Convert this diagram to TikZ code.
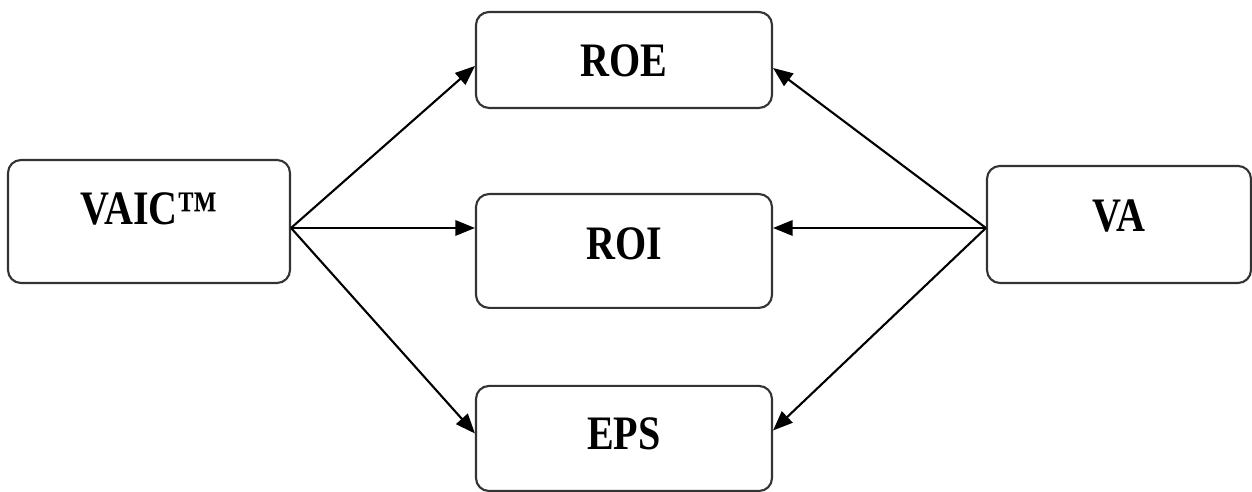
\documentclass[tikz,border=0pt]{standalone}
\usepackage{fontspec}
\setmainfont{Liberation Serif}
\usepackage{graphicx}
\usepackage{tikz}
\usetikzlibrary{arrows.meta}
\newcommand{\hoog}[1]{\scalebox{1}[1.2]{#1}}
\tikzset{
	blok/.style={draw=black!80, line width=0.6pt, rounded corners=1.3mm, inner sep=0pt, font=\fontsize{11.4}{13}\selectfont\bfseries},
	pijl/.style={line width=0.6pt, -{Triangle[length=5.6pt, width=4.4pt]}}
}

\begin{document}
\begin{tikzpicture}
			%%%%% START %%%%%
			
			\useasboundingbox (0, 0) rectangle (12.52, 4.92);
			
			\node[blok, minimum width=2.82cm, text height=18.25pt, text depth=16.75pt] (vaic) at (1.49, 2.705) {\hoog{VAIC™}};
			\node[blok, minimum width=2.64cm, text height=18.55pt, text depth=14.75pt] (va) at (11.19, 2.675) {\hoog{VA}};
			
			\node[blok, minimum width=2.96cm, text height=18.25pt, text depth=9.05pt] (roe) at (6.24, 4.32) {\hoog{ROE}};
			\node[blok, minimum width=2.96cm, text height=18.5pt, text depth=13.9pt] (roi) at (6.24, 2.41) {\hoog{ROI}};
			\node[blok, minimum width=2.96cm, text height=18pt, text depth=11.9pt] (eps) at (6.24, 0.535) {\hoog{EPS}};
			
			\coordinate (vaicout) at ([yshift=-0.065cm]vaic.east);
			\coordinate (vaout) at ([yshift=-0.035cm]va.west);
			
			\draw[pijl] (vaicout) -- ([yshift=-0.06cm]roe.west);
			\draw[pijl] (vaicout) -- (vaicout -| roi.west);
			\draw[pijl] (vaicout) -- ([yshift=0.05cm]eps.west);
			
			\draw[pijl] (vaout) -- ([yshift=-0.08cm]roe.east);
			\draw[pijl] (vaout) -- (vaout -| roi.east);
			\draw[pijl] (vaout) -- ([yshift=0.08cm]eps.east);
			
			%%%%% END %%%%%
		\end{tikzpicture}
\end{document}
